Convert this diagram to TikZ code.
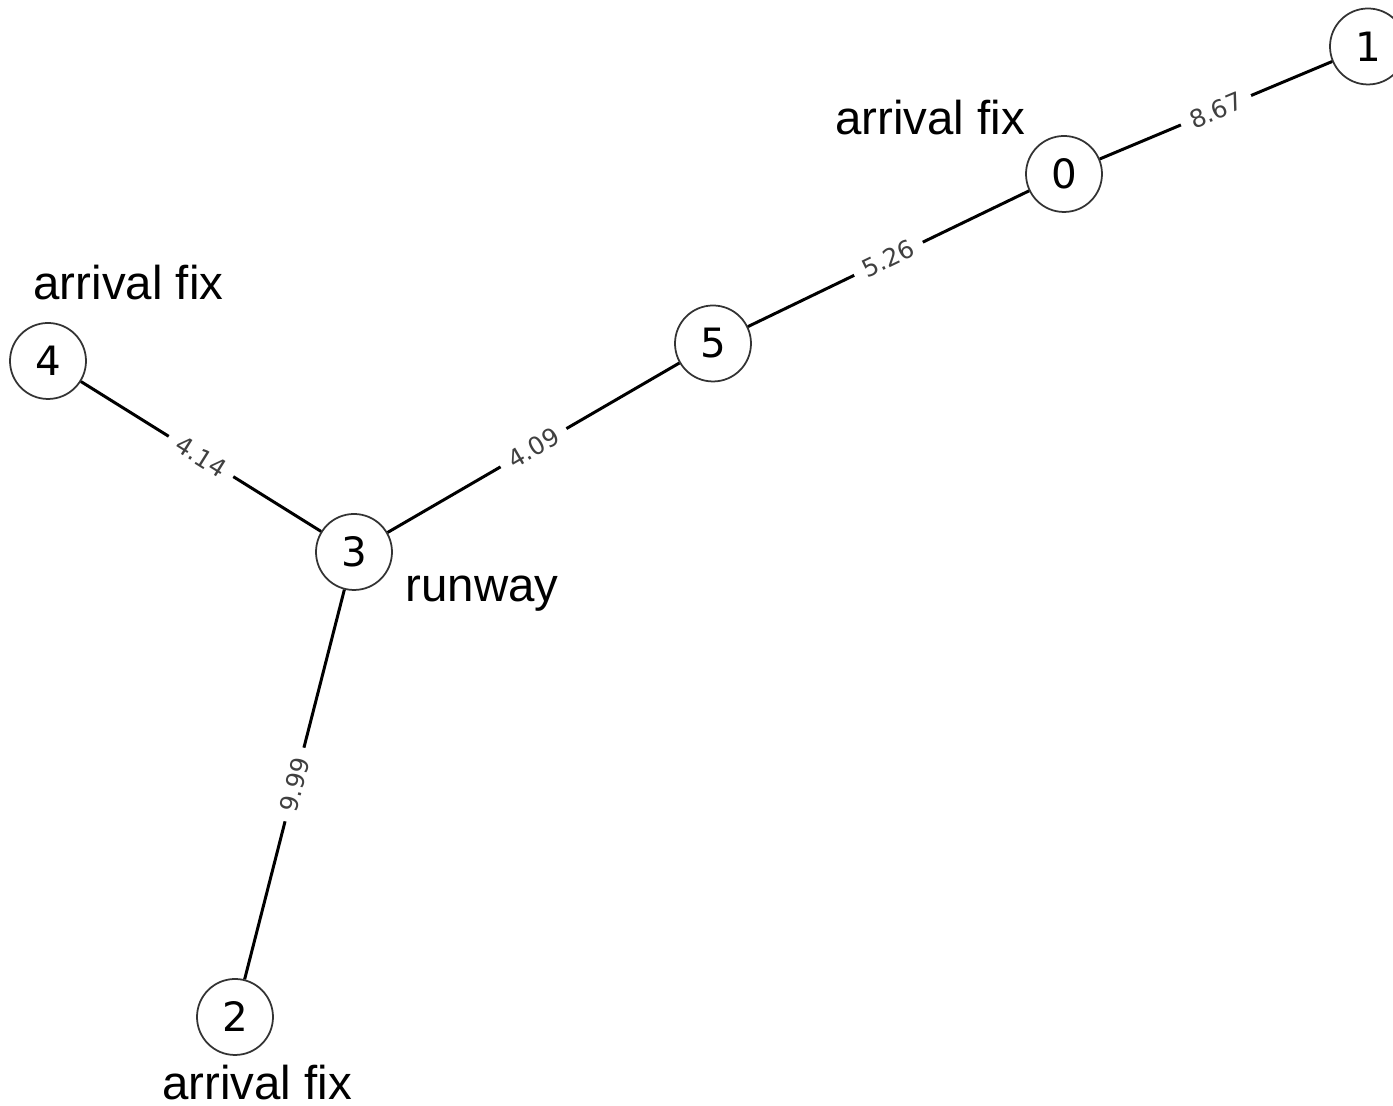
\documentclass[tikz,border=0pt]{standalone}
\usepackage{fontspec}
\setmainfont{Liberation Sans}
\newfontfamily\numfont{DejaVu Sans}

\begin{document}
\begin{tikzpicture}[
        fix/.style={
        circle, draw=black!80, line width=0.5pt,
        inner sep=0pt, minimum size=0.76cm,
        fill=white, font=\numfont\fontsize{11.5}{12}\selectfont},
        dist/.style={
        midway, sloped, fill=white,
        inner xsep=3pt, inner ysep=1pt,
        text=black!75, font=\numfont\fontsize{7}{8}\selectfont},
        leg/.style={line width=0.85pt},
        tag/.style={anchor=base, font=\fontsize{13.5}{16}\selectfont},
        ]
        \useasboundingbox (0,0) rectangle (13.93,11.06);

        \node (n0) [fix] at (10.64,9.32){0};
        \node (n1) [fix] at (13.68,10.595){1};
        \node (n2) [fix] at (2.35,0.89){2};
        \node (n3) [fix] at (3.54,5.54){3};
        \node (n4) [fix] at (0.48,7.45){4};
        \node (n5) [fix] at (7.13,7.625){5};

        \node (t0) [tag] at (9.30,9.71) {arrival fix};
        \node (t4) [tag] at (1.285,8.06) {arrival fix};
        \node (t3) [tag] at (4.82,5.04) {runway};
        \node (t2) [tag] at (2.57,0.06) {arrival fix};

        \draw[leg] (n0) -- node[dist]{8.67} (n1);
        \draw[leg] (n5) -- node[dist]{5.26} (n0);
        \draw[leg] (n3) -- node[dist]{4.09} (n5);
        \draw[leg] (n4) -- node[dist]{4.14} (n3);
        \draw[leg] (n2) -- node[dist]{9.99} (n3);
    \end{tikzpicture}
\end{document}
